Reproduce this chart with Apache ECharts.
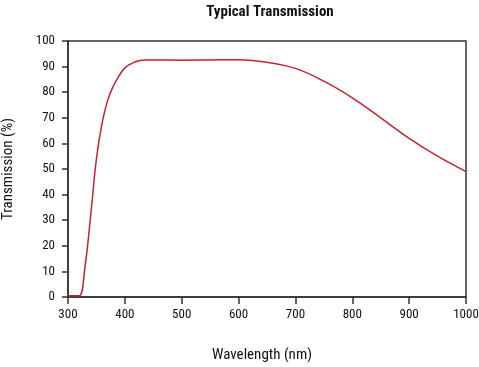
<!DOCTYPE html>
<html><head><meta charset="utf-8">
<script src="https://cdn.jsdelivr.net/npm/echarts@6/dist/echarts.min.js"></script>
<style>html,body{margin:0;padding:0;background:#fff}#c{width:479px;height:367px}</style>
</head><body><div id="c"></div>
<script>
const wavelengths = [300,310,320,330,340,350,360,370,380,390,400,410,420,430,440,450,500,550,600,650,700,750,800,850,900,950,1000];
const transmission = [0.5,0.5,0.5,12,32,54,68,77,82.5,86.5,89.5,91,92,92.5,92.6,92.6,92.5,92.6,92.7,91.7,89.3,84.3,77.8,70,62,55,49];
const FONT = '"Roboto Condensed","DejaVu Sans Condensed",sans-serif';
const chart = echarts.init(document.getElementById('c'));
chart.setOption({
  animation:false,
  title:{text:'Typical Transmission',left:265,textAlign:'center',top:0,textStyle:{fontFamily:FONT,fontWeight:'bold',fontSize:15,color:'#111'}},
  grid:{left:68,right:13,top:41,bottom:70,containLabel:false,outerBoundsMode:'none',show:true,borderColor:'#333',borderWidth:1.5,backgroundColor:'transparent'},
  xAxis:{type:'value',min:300,max:1000,interval:100,name:'Wavelength (nm)',nameLocation:'middle',nameGap:51,
    nameTextStyle:{fontFamily:FONT,fontSize:15,color:'#111',padding:[0,10,0,0]},
    axisLine:{lineStyle:{color:'#333',width:1.5}},axisTick:{length:7,lineStyle:{color:'#333',width:1.5}},
    axisLabel:{fontFamily:FONT,fontSize:13,color:'#111',margin:11,formatter:v=>String(v)},splitLine:{show:false}},
  yAxis:{type:'value',min:0,max:100,interval:10,name:'Transmission (%)',nameLocation:'middle',nameGap:52,
    nameTextStyle:{fontFamily:FONT,fontSize:15,color:'#111'},
    axisLine:{show:true,lineStyle:{color:'#333',width:1.5}},axisTick:{show:true,length:6,lineStyle:{color:'#333',width:1.5}},
    axisLabel:{fontFamily:FONT,fontSize:13,color:'#111',margin:13},splitLine:{show:false}},
  series:[{type:'line',smooth:0.4,showSymbol:false,data:wavelengths.map((w,i)=>[w,transmission[i]]),
    lineStyle:{color:'#c8202f',width:1.5}}]
});
</script></body></html>
